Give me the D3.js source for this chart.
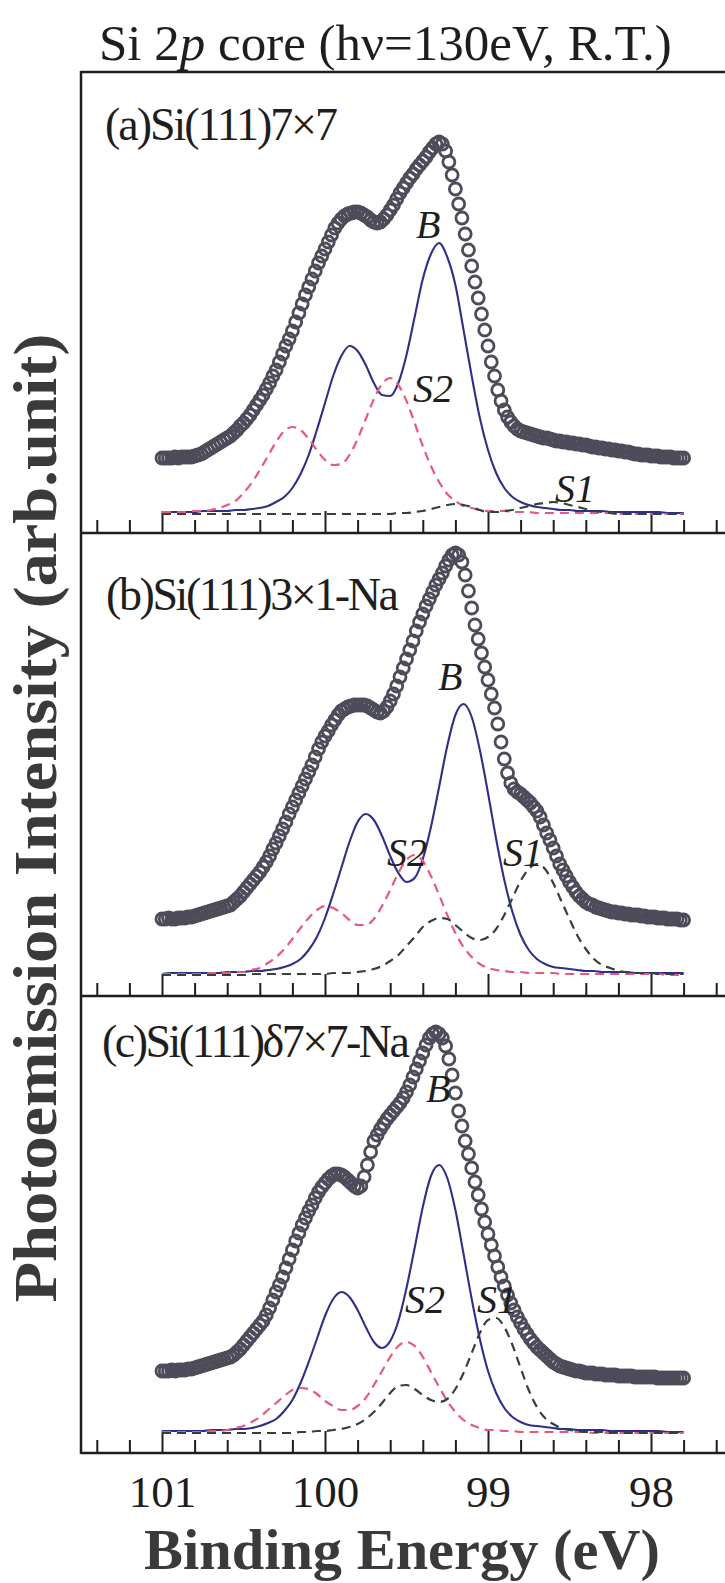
<!DOCTYPE html>
<html><head><meta charset="utf-8">
<script src="https://cdn.jsdelivr.net/npm/d3@7"></script>
<style>body{margin:0;background:#fff}svg{display:block}</style>
</head><body><div id="chart"></div>
<script>
// ---------- DATA ----------
const chartTitle = "Si 2p core (hν=130eV, R.T.)";
const xTitle = "Binding Energy (eV)";
const yTitle = "Photoemission Intensity (arb.unit)";
const panelNames = ["(a)Si(111)7×7", "(b)Si(111)3×1-Na", "(c)Si(111)δ7×7-Na"];
const componentNames = ["B", "S2", "S1"];
const majorTicks = [101, 100, 99, 98];
const tickLabels = ["101", "100", "99", "98"];
const minorTicks = [101.4, 101.2, 100.8, 100.6, 100.4, 100.2, 99.8, 99.6, 99.4, 99.2, 98.8, 98.6, 98.4, 98.2, 97.8, 97.6];

// measured points (binding energy, eV)
const energyData = [101,100.98,100.96,100.94,100.92,100.9,100.88,100.86,100.84,100.82,
100.8,100.78,100.76,100.74,100.72,100.7,100.68,100.66,100.64,100.62,
100.6,100.58,100.56,100.54,100.52,100.5,100.48,100.46,100.44,100.42,
100.4,100.38,100.36,100.34,100.32,100.3,100.28,100.26,100.24,100.22,
100.2,100.18,100.16,100.14,100.12,100.1,100.08,100.06,100.04,100.02,
100,99.98,99.96,99.94,99.92,99.9,99.88,99.86,99.84,99.82,
99.8,99.78,99.76,99.74,99.72,99.7,99.68,99.66,99.64,99.62,
99.6,99.58,99.56,99.54,99.52,99.5,99.48,99.46,99.44,99.42,
99.4,99.38,99.36,99.34,99.32,99.3,99.28,99.26,99.24,99.22,
99.2,99.18,99.16,99.14,99.12,99.1,99.08,99.06,99.04,99.02,
99,98.98,98.96,98.94,98.92,98.9,98.88,98.86,98.84,98.82,
98.8,98.78,98.76,98.74,98.72,98.7,98.68,98.66,98.64,98.62,
98.6,98.58,98.56,98.54,98.52,98.5,98.48,98.46,98.44,98.42,
98.4,98.38,98.36,98.34,98.32,98.3,98.28,98.26,98.24,98.22,
98.2,98.18,98.16,98.14,98.12,98.1,98.08,98.06,98.04,98.02,
98,97.98,97.96,97.94,97.92,97.9,97.88,97.86,97.84,97.82,97.8];

const intensityA = [56,56,56,56,57,56,57,57,57,57,58,
59,60,62,64,66,68,70,72,74,76,
78,81,84,88,91,95,99,104,109,114,
119,125,131,138,144,152,160,168,175,183,
192,201,210,219,227,235,243,251,258,265,
272,279,286,291,295,298,300,301,302,302,
301,299,297,294,292,291,292,295,299,304,
309,315,321,326,331,336,340,345,349,353,
357,362,366,370,372,370,363,352,339,325,
310,296,280,264,248,232,216,200,184,168,
152,138,124,113,104,97,92,88,85,83,
82,81,80,79,78,77,76,76,75,74,
73,73,72,72,71,71,70,70,69,69,
68,67,67,66,66,65,65,64,64,63,
63,62,62,61,60,60,59,59,59,58,
58,58,57,57,57,57,56,56,56,56];

const intensityB = [56,56,57,56,56,57,57,57,58,58,59,
60,61,62,63,64,65,66,67,68,69,
70,73,76,79,83,87,91,95,99,103,
108,113,119,126,132,139,146,153,161,168,
175,182,189,196,203,210,218,226,233,239,
244,250,255,260,264,266,268,269,270,270,
270,270,269,267,265,263,262,264,268,274,
281,289,298,307,316,325,334,344,353,361,
369,376,383,390,396,402,409,415,420,422,
420,413,400,384,367,350,336,322,308,295,
281,267,251,233,216,202,192,186,183,181,
178,175,172,168,164,158,150,142,135,127,
119,111,105,99,93,88,83,79,76,73,
71,70,68,67,66,65,64,63,63,62,
62,61,61,60,60,60,59,59,58,58,
58,57,57,57,56,56,56,56,55,55];

const intensityC = [62,62,62,63,62,63,63,63,64,64,65,
66,67,68,69,70,71,72,73,74,75,
76,78,81,84,88,92,96,100,104,108,
112,118,125,133,141,148,156,165,174,183,
192,200,208,215,222,228,235,241,246,250,
254,257,259,259,258,256,253,250,247,245,
247,256,268,281,292,298,304,309,314,318,
322,326,330,335,341,348,356,364,372,380,
388,395,399,401,399,395,387,374,358,340,
322,307,292,279,265,251,238,224,211,199,
188,177,166,156,147,138,130,123,116,110,
104,99,94,90,86,83,80,77,74,71,
69,67,66,65,64,63,62,62,61,60,
60,60,59,59,59,58,58,58,58,57,
57,57,57,57,56,56,56,56,56,56,
56,55,55,55,55,55,55,55,55,55];

// fitted components (binding energy, eV)
const energyFit = [101,100.95,100.9,100.85,100.8,100.75,100.7,100.65,100.6,100.55,
100.5,100.45,100.4,100.35,100.3,100.25,100.2,100.15,100.1,100.05,
100,99.95,99.9,99.85,99.8,99.75,99.7,99.65,99.6,99.55,
99.5,99.45,99.4,99.35,99.3,99.25,99.2,99.15,99.1,99.05,
99,98.95,98.9,98.85,98.8,98.75,98.7,98.65,98.6,98.55,
98.5,98.45,98.4,98.35,98.3,98.25,98.2,98.15,98.1,98.05,
98,97.95,97.9,97.85,97.8];

const bulkA = [2,2,2,2,2,3,3,3,3,4,
4,5,6,8,12,17,26,40,59,84,
111,138,158,168,163,149,131,119,118,131,
159,197,235,260,271,257,229,184,138,96,
64,41,26,17,12,9,7,6,5,4,
4,3,3,3,3,2,2,2,2,2,
2,2,1,1,1];
const s2A = [2,2,2,2,3,3,4,6,9,13,
21,31,44,58,72,83,87,84,75,64,
54,49,50,59,75,95,115,130,136,129,
113,91,68,48,32,20,13,8,6,4,
3,3,3,2,2,2,1,1,1,1,
1,1,1,1,1,1,0,0,0,0,
0,0,0,0,0];
const s1A = [0,0,0,0,0,0,0,0,0,0,
0,0,0,0,0,0,0,0,0,0,
0,0,0,0,0,0,0,0,0,1,
1,2,3,5,7,9,10,9,7,4,
2,2,3,4,6,8,10,11,12,11,
9,7,5,3,2,1,0,0,0,0,
0,0,0,0,0];

const bulkB = [1,2,2,2,2,2,2,2,3,3,
3,4,4,5,6,8,11,16,25,38,
57,81,107,133,153,161,155,139,119,102,
93,97,116,148,188,229,260,271,258,225,
182,136,95,63,40,25,16,11,8,7,
6,5,4,4,3,3,3,3,2,2,
2,2,2,2,2];
const s2B = [1,1,1,1,1,1,2,2,2,3,
3,5,7,12,18,26,36,47,57,65,
69,67,62,55,50,50,56,69,85,102,
115,120,114,99,80,60,42,28,18,11,
7,5,4,3,3,2,2,2,2,1,
1,1,1,1,1,1,1,1,1,1,
1,1,0,0,0];
const s1B = [0,0,0,0,0,0,0,0,0,0,
0,1,1,1,1,1,1,1,1,1,
1,2,2,2,3,4,6,9,14,20,
29,38,48,54,57,56,50,43,37,35,
38,46,60,77,94,106,111,106,92,74,
56,39,26,16,10,7,4,3,2,2,
2,1,1,1,1];

const bulkC = [2,2,2,2,2,2,3,3,3,4,
4,5,7,10,14,22,33,50,71,94,
117,134,141,136,123,106,91,85,92,112,
145,185,226,257,268,255,223,179,134,94,
62,40,25,16,11,8,7,6,5,4,
4,3,3,3,3,2,2,2,2,2,
2,2,1,1,1];
const s2C = [1,1,1,1,1,1,2,2,3,5,
7,11,16,23,30,37,43,45,44,39,
32,27,23,23,27,35,48,62,76,87,
91,87,76,61,46,32,21,13,8,5,
3,3,2,2,1,1,1,1,1,1,
1,1,1,0,0,0,0,0,0,0,
0,0,0,0,0];
const s1C = [0,0,0,0,0,0,0,0,0,0,
0,0,0,0,0,0,0,1,1,2,
2,3,4,6,9,14,21,30,40,47,
48,44,38,33,31,34,44,60,80,100,
113,115,106,88,65,43,26,15,9,5,
3,2,1,1,1,0,0,0,0,0,
0,0,0,0,0];

// ---------- LAYOUT ----------
const W = 725, H = 1583;
const FONT = "'Liberation Serif','Times New Roman',Times,serif";
const frameLeft = 81, frameTop = 72, frameRight = 725;
const colors = {bulk: "#2f2f88", s2: "#e8587c", s1: "#33413b", circle: "#4c4c5a", ink: "#1e1e1e", title: "#3a3a3a"};

const panels = [
  {name: panelNames[0], data: intensityA, comps: [bulkA, s2A, s1A], axisY: 533, base: 514,
   label: {x: 105, y: 140, len: 233},
   tags: [{x: 416, y: 238}, {x: 413, y: 402}, {x: 555, y: 502}]},
  {name: panelNames[1], data: intensityB, comps: [bulkB, s2B, s1B], axisY: 996, base: 975,
   label: {x: 106, y: 610, len: 293},
   tags: [{x: 438, y: 690}, {x: 387, y: 866}, {x: 503, y: 866}]},
  {name: panelNames[2], data: intensityC, comps: [bulkC, s2C, s1C], axisY: 1453, base: 1433,
   label: {x: 102, y: 1057, len: 308},
   tags: [{x: 426, y: 1102}, {x: 405, y: 1313}, {x: 477, y: 1313}]}
];

const svg = d3.select("#chart").append("svg").attr("width", W).attr("height", H)
  .style("font-family", FONT);

const x = d3.scaleLinear().domain([101, 98]).range([162, 651]);

// title
const t = svg.append("text").attr("x", 99).attr("y", 60).attr("font-size", 51)
  .style("font-family", FONT).attr("fill", colors.ink);
t.append("tspan").text("Si 2");
t.append("tspan").attr("font-style", "italic").text("p");
t.append("tspan").text(" core (hν=130eV, R.T.)");

// frame
svg.append("line").attr("x1", frameLeft).attr("x2", frameLeft).attr("y1", frameTop - 1).attr("y2", 1454)
  .attr("stroke", colors.ink).attr("stroke-width", 2.5);
svg.append("line").attr("x1", frameLeft).attr("x2", frameRight).attr("y1", frameTop).attr("y2", frameTop)
  .attr("stroke", colors.ink).attr("stroke-width", 2.5);

const compStyles = [
  {stroke: colors.bulk, dash: null, width: 2.1},
  {stroke: colors.s2, dash: "9,6", width: 2.2},
  {stroke: colors.s1, dash: "9,6", width: 2.2}
];

panels.forEach((p, pi) => {
  const y = d3.scaleLinear().domain([0, 400]).range([p.base, p.base - 400]);
  const g = svg.append("g");

  // axis line
  g.append("line").attr("x1", frameLeft).attr("x2", frameRight).attr("y1", p.axisY).attr("y2", p.axisY)
    .attr("stroke", colors.ink).attr("stroke-width", 2.5);
  // minor ticks
  const gm = g.append("g").attr("transform", `translate(0,${p.axisY})`)
    .call(d3.axisTop(x).tickValues(minorTicks).tickSize(13).tickFormat(""));
  gm.select(".domain").remove();
  gm.selectAll(".tick line").attr("stroke", colors.ink).attr("stroke-width", 2);
  // major ticks
  const gM = g.append("g").attr("transform", `translate(0,${p.axisY})`)
    .call(d3.axisTop(x).tickValues(majorTicks).tickSize(22).tickFormat(""));
  gM.select(".domain").remove();
  gM.selectAll(".tick line").attr("stroke", colors.ink).attr("stroke-width", 2);

  // components
  p.comps.forEach((vals, ci) => {
    const line = d3.line().x((d, i) => x(energyFit[i])).y(d => y(d)).curve(d3.curveMonotoneX);
    const path = g.append("path").datum(vals).attr("d", line).attr("fill", "none")
      .attr("stroke", compStyles[ci].stroke).attr("stroke-width", compStyles[ci].width);
    if (compStyles[ci].dash) path.attr("stroke-dasharray", compStyles[ci].dash);
  });

  // data circles
  g.append("g").selectAll("circle").data(p.data).join("circle")
    .attr("cx", (d, i) => x(energyData[i])).attr("cy", d => y(d)).attr("r", 6)
    .attr("fill", "none").attr("stroke", colors.circle).attr("stroke-width", 2.8);

  // panel label
  g.append("text").attr("x", p.label.x).attr("y", p.label.y).attr("font-size", 46)
    .style("font-family", FONT).attr("fill", colors.ink)
    .attr("textLength", p.label.len).attr("lengthAdjust", "spacing")
    .text(p.name);

  // component tags
  componentNames.forEach((nm, ci) => {
    g.append("text").attr("x", p.tags[ci].x).attr("y", p.tags[ci].y).attr("font-size", 40)
      .style("font-family", FONT).attr("font-style", "italic").attr("fill", colors.ink).text(nm);
  });
});

// bottom tick labels
const gl = svg.append("g").attr("transform", `translate(0,1453)`)
  .call(d3.axisBottom(x).tickValues(majorTicks).tickSize(0).tickFormat((d, i) => tickLabels[i]));
gl.select(".domain").remove();
gl.selectAll("text").attr("y", 54).attr("dy", 0).attr("font-size", 45)
  .style("font-family", FONT).attr("fill", colors.ink);

// axis titles
svg.append("text").attr("x", 402).attr("y", 1569).attr("text-anchor", "middle")
  .attr("font-size", 57).attr("font-weight", "bold").style("font-family", FONT).attr("fill", colors.title)
  .attr("textLength", 516).attr("lengthAdjust", "spacingAndGlyphs").text(xTitle);

svg.append("text").attr("transform", "translate(56,818) rotate(-90)").attr("text-anchor", "middle")
  .attr("font-size", 61).attr("font-weight", "bold").style("font-family", FONT).attr("fill", colors.title)
  .attr("textLength", 969).attr("lengthAdjust", "spacingAndGlyphs").text(yTitle);
</script>
</body></html>
